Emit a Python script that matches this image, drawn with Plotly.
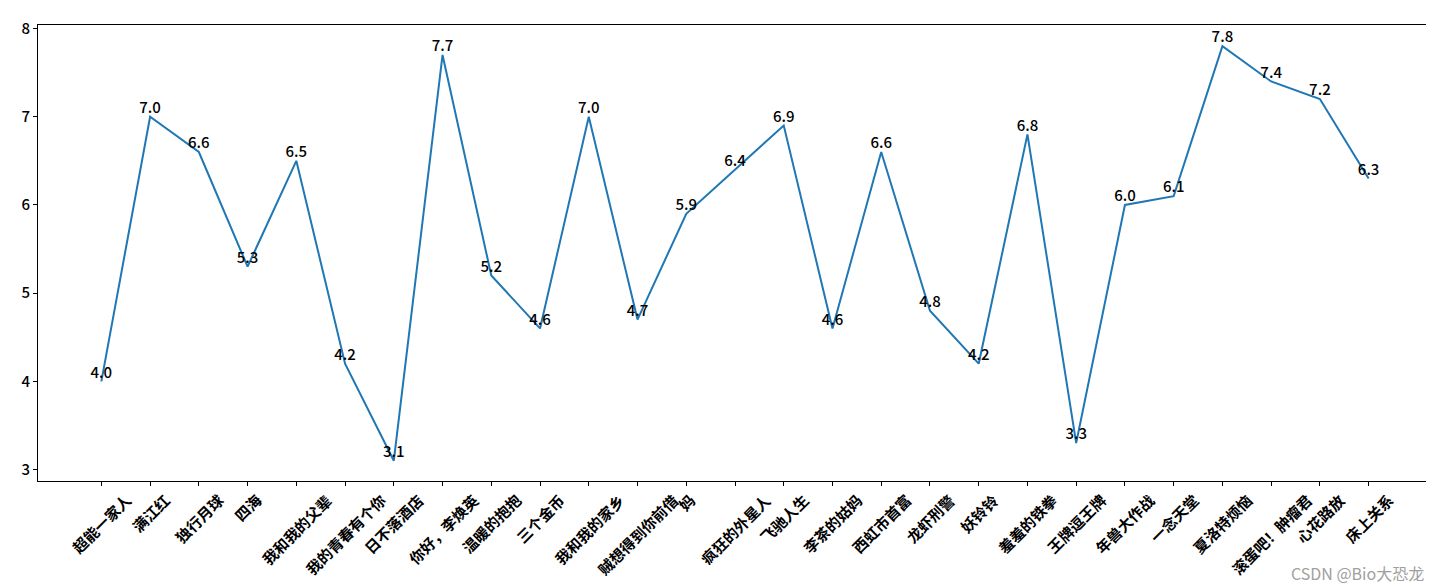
import plotly.graph_objects as go

movies = [
    "超能一家人", "满江红", "独行月球", "四海", "我和我的父辈", "我的青春有个你",
    "日不落酒店", "你好，李焕英", "温暖的抱抱", "三个金币", "我和我的家乡",
    "贼想得到你前借", "妈", "疯狂的外星人", "飞驰人生", "李茶的姑妈", "西虹市首富",
    "龙虾刑警", "妖铃铃", "羞羞的铁拳", "王牌逗王牌", "年兽大作战", "一念天堂",
    "夏洛特烦恼", "滚蛋吧！肿瘤君", "心花路放", "床上关系",
]
scores = [
    4.0, 7.0, 6.6, 5.3, 6.5, 4.2, 3.1, 7.7, 5.2, 4.6, 7.0, 4.7, 5.9, 6.4,
    6.9, 4.6, 6.6, 4.8, 4.2, 6.8, 3.3, 6.0, 6.1, 7.8, 7.4, 7.2, 6.3,
]
y_ticks = [3, 4, 5, 6, 7, 8]

FONT = "Noto Sans CJK SC"
idx = list(range(len(movies)))

fig = go.Figure()
fig.add_trace(
    go.Scatter(
        x=idx,
        y=scores,
        mode="lines+text",
        line=dict(color="#1f77b4", width=2),
        text=[f"{s:.1f}" for s in scores],
        textposition="top center",
        textfont=dict(family=FONT, size=15, color="black", weight=500),
        cliponaxis=False,
        hoverinfo="skip",
    )
)

# rotated labels centred under each tick, like matplotlib's rotation=45
for i, name in enumerate(movies):
    fig.add_annotation(
        x=i,
        y=0,
        xref="x",
        yref="paper",
        text=f"<b>{name}</b>",
        textangle=-45,
        xanchor="center",
        yanchor="top",
        yshift=-6,
        showarrow=False,
        font=dict(family=FONT, size=15, color="black"),
    )

# watermark in the bottom-right corner
fig.add_annotation(
    x=1.0,
    y=0,
    xref="paper",
    yref="paper",
    text="CSDN @Bio大恐龙",
    xanchor="right",
    yanchor="bottom",
    xshift=-6,
    yshift=-106,
    showarrow=False,
    font=dict(family=FONT, size=16, color="#a0a0a0"),
)

axis_style = dict(
    showline=True,
    linecolor="black",
    linewidth=1,
    mirror=True,
    showgrid=False,
    zeroline=False,
    ticks="outside",
    ticklen=4,
    tickcolor="black",
)
fig.update_xaxes(
    **axis_style,
    range=[-1.3, 27.3],
    tickvals=idx,
    showticklabels=False,
)
fig.update_yaxes(
    **axis_style,
    range=[2.87, 8.04],
    tickvals=y_ticks,
    tickfont=dict(family=FONT, size=15, color="black", weight=500),
)
fig.update_layout(
    width=1434,
    height=588,
    plot_bgcolor="white",
    paper_bgcolor="white",
    showlegend=False,
    margin=dict(l=30, r=9, t=12, b=115),
)

fig.write_html("out.html")
